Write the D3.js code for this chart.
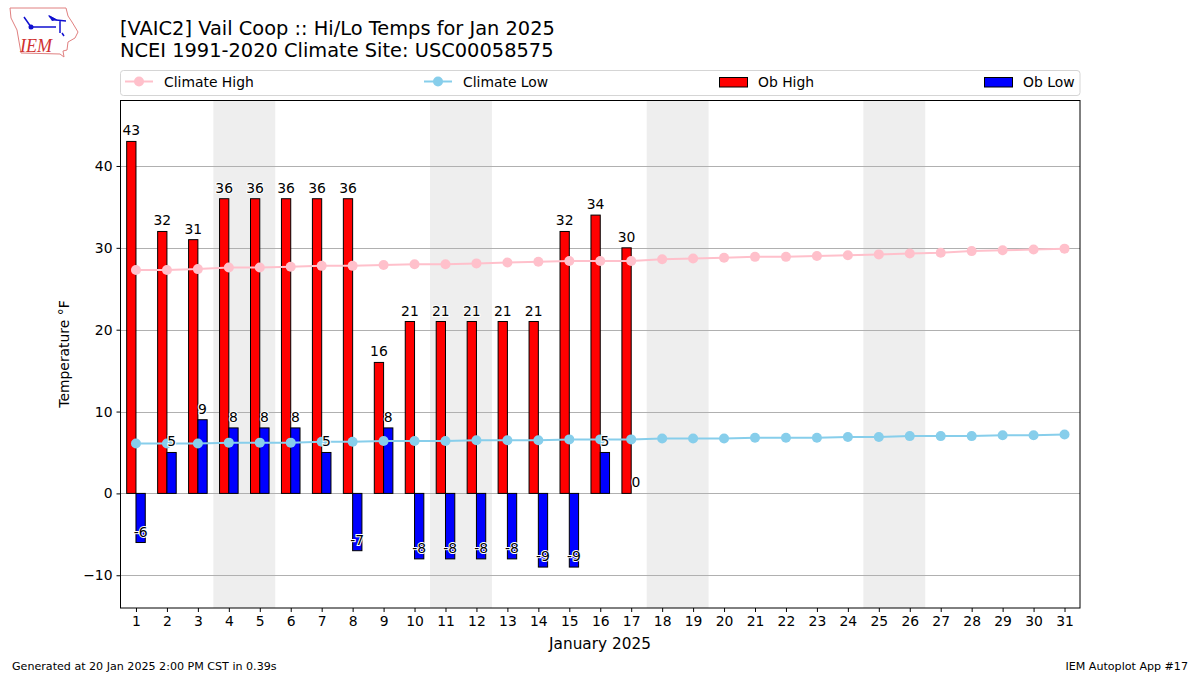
<!DOCTYPE html>
<html>
<head>
<meta charset="utf-8">
<script src="https://cdn.jsdelivr.net/npm/d3@7"></script>
<style>
body { margin: 0; background: #fff; }
text { font-family: "DejaVu Sans", sans-serif; fill: #000; }
</style>
</head>
<body>
<svg id="chart" width="1200" height="675" style="display:block"></svg>
<script>
const days = d3.range(1, 32)
const obHigh = [43, 32, 31, 36, 36, 36, 36, 36, 16, 21, 21, 21, 21, 21, 32, 34, 30]
const obLow = [-6, 5, 9, 8, 8, 8, 5, -7, 8, -8, -8, -8, -8, -9, -9, 5, 0]
const climateHigh = [27.3, 27.3, 27.4, 27.6, 27.6, 27.7, 27.8, 27.8, 27.9, 28.0, 28.0, 28.1, 28.2, 28.3, 28.4, 28.4, 28.4, 28.6, 28.7, 28.8, 28.9, 28.9, 29.0, 29.1, 29.2, 29.3, 29.4, 29.6, 29.7, 29.8, 29.9]
const climateLow = [6.1, 6.1, 6.1, 6.2, 6.2, 6.2, 6.3, 6.3, 6.4, 6.4, 6.4, 6.5, 6.5, 6.5, 6.6, 6.6, 6.6, 6.7, 6.7, 6.7, 6.8, 6.8, 6.8, 6.9, 6.9, 7.0, 7.0, 7.0, 7.1, 7.1, 7.2]
const weekends = [[3.5, 5.5], [10.5, 12.5], [17.5, 19.5], [24.5, 26.5]]
const yTicks = [-10, 0, 10, 20, 30, 40]
const titleLines = ['[VAIC2] Vail Coop :: Hi/Lo Temps for Jan 2025', 'NCEI 1991-2020 Climate Site: USC00058575']

const plotLeft = 120.5, plotRight = 1080, plotTop = 100.5, plotBottom = 608
const barWidth = 0.3

const svg = d3.select('#chart')
const x = d3.scaleLinear().domain([0.5, 31.5]).range([plotLeft, plotRight])
const y = d3.scaleLinear().domain([-14, 48]).range([plotBottom, plotTop])

// weekend shading
svg.append('g').selectAll('rect')
    .data(weekends)
    .enter()
    .append('rect')
    .attr('x', d => x(d[0]))
    .attr('y', plotTop)
    .attr('width', d => x(d[1]) - x(d[0]))
    .attr('height', plotBottom - plotTop)
    .attr('fill', '#eeeeee')

// grid
svg.append('g').selectAll('line')
    .data(yTicks)
    .enter()
    .append('line')
    .attr('x1', plotLeft)
    .attr('x2', plotRight)
    .attr('y1', d => Math.round(y(d)) + 0.5)
    .attr('y2', d => Math.round(y(d)) + 0.5)
    .attr('stroke', '#b0b0b0')
    .attr('stroke-width', 1)

// bars, highs sit left of the day and lows right of it
function drawBars(values, offset, fill) {
    svg.append('g').selectAll('rect')
        .data(values)
        .enter()
        .append('rect')
        .attr('x', (d, i) => x(days[i] + offset))
        .attr('y', d => y(Math.max(d, 0)))
        .attr('width', x(barWidth) - x(0))
        .attr('height', d => Math.abs(y(d) - y(0)))
        .attr('fill', fill)
        .attr('stroke', d => d == 0 ? 'none' : '#000')
        .attr('stroke-width', 1)
}
drawBars(obHigh, -barWidth, '#ff0000')
drawBars(obLow, 0, '#0000ff')

// climate lines
function drawClimate(values, color) {
    const line = d3.line().x((d, i) => x(days[i])).y(d => y(d))
    svg.append('path')
        .attr('d', line(values))
        .attr('fill', 'none')
        .attr('stroke', color)
        .attr('stroke-width', 2)
    svg.append('g').selectAll('circle')
        .data(values)
        .enter()
        .append('circle')
        .attr('cx', (d, i) => x(days[i]))
        .attr('cy', d => y(d))
        .attr('r', 5)
        .attr('fill', color)
}
drawClimate(climateHigh, '#ffc0cb')
drawClimate(climateLow, '#87ceeb')

// value labels with white halo
function drawLabels(values, offset) {
    svg.append('g').selectAll('text')
        .data(values)
        .enter()
        .append('text')
        .attr('x', (d, i) => x(days[i] + offset))
        .attr('y', d => y(d) - 6)
        .attr('text-anchor', 'middle')
        .attr('font-size', 13.9)
        .attr('stroke', '#fff')
        .attr('stroke-width', 2)
        .attr('paint-order', 'stroke')
        .text(d => d)
}
drawLabels(obHigh, -0.15)
drawLabels(obLow, 0.15)

// frame
svg.append('rect')
    .attr('x', plotLeft)
    .attr('y', plotTop)
    .attr('width', plotRight - plotLeft)
    .attr('height', plotBottom - plotTop)
    .attr('fill', 'none')
    .attr('stroke', '#000')
    .attr('stroke-width', 1)

// axes
const xAxis = d3.axisBottom(x).tickValues(days).tickFormat(d3.format('d')).tickSize(4).tickPadding(4)
const gx = svg.append('g').attr('transform', 'translate(0,' + plotBottom + ')').call(xAxis)
gx.select('.domain').remove()
gx.selectAll('text').attr('font-size', 13.9).style('font-family', '"DejaVu Sans"')
gx.selectAll('line').attr('stroke', '#000')

const yAxis = d3.axisLeft(y).tickValues(yTicks).tickFormat(d => d < 0 ? '\u2212' + (-d) : d).tickSize(4).tickPadding(4)
const gy = svg.append('g').attr('transform', 'translate(' + plotLeft + ',0)').call(yAxis)
gy.select('.domain').remove()
gy.selectAll('text').attr('font-size', 13.9).style('font-family', '"DejaVu Sans"')
gy.selectAll('line').attr('stroke', '#000')

// titles
svg.append('g').selectAll('text')
    .data(titleLines)
    .enter()
    .append('text')
    .attr('x', 120)
    .attr('y', (d, i) => 35 + i * 22)
    .attr('font-size', 19.4)
    .text(d => d)

svg.append('text')
    .attr('x', 600)
    .attr('y', 649)
    .attr('text-anchor', 'middle')
    .attr('font-size', 15.3)
    .text('January 2025')

svg.append('text')
    .attr('transform', 'translate(69,354) rotate(-90)')
    .attr('text-anchor', 'middle')
    .attr('font-size', 13.9)
    .text('Temperature \u00b0F')

svg.append('text')
    .attr('x', 12)
    .attr('y', 670)
    .attr('font-size', 11.1)
    .text('Generated at 20 Jan 2025 2:00 PM CST in 0.39s')

svg.append('text')
    .attr('x', 1188)
    .attr('y', 670)
    .attr('text-anchor', 'end')
    .attr('font-size', 11.1)
    .text('IEM Autoplot App #17')

// legend
const legend = svg.append('g')
legend.append('rect')
    .attr('x', 120.5)
    .attr('y', 70.5)
    .attr('width', 959.5)
    .attr('height', 25)
    .attr('rx', 3)
    .attr('fill', '#fff')
    .attr('stroke', '#d5d5d5')

const legendItems = [
    {label: 'Climate High', color: '#ffc0cb', at: 125, kind: 'line'},
    {label: 'Climate Low', color: '#87ceeb', at: 424, kind: 'line'},
    {label: 'Ob High', color: '#ff0000', at: 719, kind: 'bar'},
    {label: 'Ob Low', color: '#0000ff', at: 984, kind: 'bar'}
]
legendItems.forEach(function(d) {
    if (d.kind == 'line') {
        legend.append('line')
            .attr('x1', d.at).attr('x2', d.at + 28)
            .attr('y1', 81.5).attr('y2', 81.5)
            .attr('stroke', d.color).attr('stroke-width', 2)
        legend.append('circle')
            .attr('cx', d.at + 14).attr('cy', 81.5).attr('r', 5).attr('fill', d.color)
    }
    else {
        legend.append('rect')
            .attr('x', d.at + 0.5).attr('y', 77.5)
            .attr('width', 28).attr('height', 9.5)
            .attr('fill', d.color).attr('stroke', '#000')
    }
    legend.append('text')
        .attr('x', d.at + 39)
        .attr('y', 86.5)
        .attr('font-size', 13.9)
        .text(d.label)
})

// IEM logo
const logo = svg.append('g')
logo.append('path')
    .attr('d', 'M10 8 L66 8 L68 16 L72 22 L78 32 L75 38 L68 42 L67 50 L63 51 L64 57 L60 54 L21 53 L17 30 L11 18 Z')
    .attr('fill', 'none')
    .attr('stroke', '#e08080')
    .attr('stroke-width', 1)
logo.append('path')
    .attr('d', 'M31 27 L56 27 M56 20 L66 21 M56 20 L49 16 M60 21 L60 33 M31 27 L24 17 M62 33 L64 36')
    .attr('fill', 'none')
    .attr('stroke', '#1010d0')
    .attr('stroke-width', 1.5)
logo.append('circle').attr('cx', 31).attr('cy', 27).attr('r', 2.5).attr('fill', '#1010d0')
logo.append('path').attr('d', 'M48 15 L58 20 L52 21 Z').attr('fill', '#1010d0')
logo.append('text')
    .attr('x', 20)
    .attr('y', 52)
    .attr('font-size', 18)
    .attr('font-style', 'italic')
    .style('font-family', '"Liberation Serif", serif')
    .style('fill', '#d03030')
    .text('IEM')
</script>
</body>
</html>
